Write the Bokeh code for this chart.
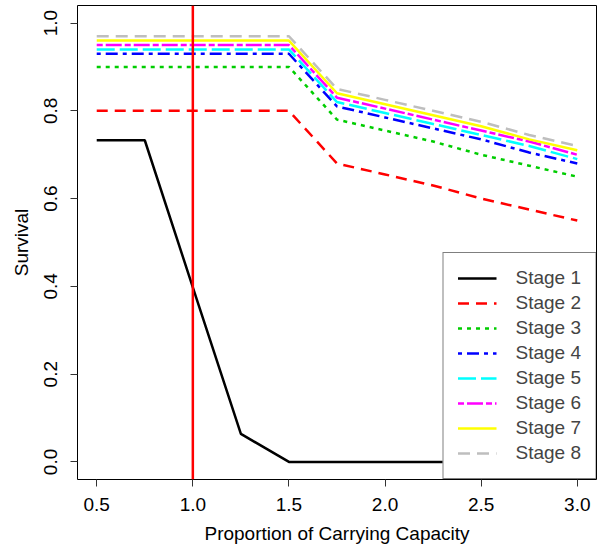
from bokeh.plotting import figure
from bokeh.models import Range1d, FixedTicker, PrintfTickFormatter, Span, Legend, LegendItem
from bokeh.embed import file_html
from bokeh.resources import INLINE

# Data
x = [0.5, 0.75, 1.0, 1.25, 1.5, 1.75, 2.0, 2.25, 2.5, 2.75, 3.0]
stage1 = [0.733, 0.733, 0.398, 0.064, 0.0, 0.0, 0.0, 0.0, 0.0, 0.0, 0.0]
stage2 = [0.80, 0.80, 0.80, 0.80, 0.80, 0.68, 0.655, 0.63, 0.60, 0.575, 0.55]
stage3 = [0.90, 0.90, 0.90, 0.90, 0.90, 0.78, 0.755, 0.73, 0.70, 0.675, 0.65]
stage4 = [0.93, 0.93, 0.93, 0.93, 0.93, 0.81, 0.785, 0.76, 0.735, 0.705, 0.68]
stage5 = [0.94, 0.94, 0.94, 0.94, 0.94, 0.82, 0.795, 0.77, 0.745, 0.72, 0.69]
stage6 = [0.95, 0.95, 0.95, 0.95, 0.95, 0.83, 0.805, 0.78, 0.755, 0.73, 0.70]
stage7 = [0.96, 0.96, 0.96, 0.96, 0.96, 0.84, 0.815, 0.79, 0.765, 0.735, 0.71]
stage8 = [0.97, 0.97, 0.97, 0.97, 0.97, 0.85, 0.825, 0.80, 0.775, 0.745, 0.72]
labels = ["Stage 1", "Stage 2", "Stage 3", "Stage 4", "Stage 5", "Stage 6", "Stage 7", "Stage 8"]
carrying_capacity_marker = 1.0
x_ticks = [0.5, 1.0, 1.5, 2.0, 2.5, 3.0]
y_ticks = [0.0, 0.2, 0.4, 0.6, 0.8, 1.0]

series = [stage1, stage2, stage3, stage4, stage5, stage6, stage7, stage8]
colors = ["#000000", "#FF0000", "#00CD00", "#0000FF", "#00FFFF", "#FF00FF", "#FFFF00", "#BEBEBE"]
dashes = ["solid", "11 7", "4 5", "4 5 12 5", "18 5", "6 3 16 3", "solid", "12 7"]

FONT = "Liberation Sans"
FS = "19px"

p = figure(width=601, height=550, output_backend="svg", toolbar_location=None,
           x_range=Range1d(0.4, 3.1), y_range=Range1d(-0.04, 1.04),
           min_border_left=77, min_border_right=5, min_border_top=5, min_border_bottom=71,
           background_fill_color="white", border_fill_color="white")
p.xgrid.visible = False
p.ygrid.visible = False
p.outline_line_color = "black"
p.outline_line_width = 1

p.xaxis.ticker = FixedTicker(ticks=x_ticks)
p.yaxis.ticker = FixedTicker(ticks=y_ticks)
p.xaxis.formatter = PrintfTickFormatter(format="%.1f")
p.yaxis.formatter = PrintfTickFormatter(format="%.1f")
p.xaxis.axis_label = "Proportion of Carrying Capacity"
p.yaxis.axis_label = "Survival"
p.yaxis.major_label_orientation = "vertical"
for ax in [p.xaxis[0], p.yaxis[0]]:
    ax.axis_line_color = None
    ax.major_tick_in = 0
    ax.major_tick_out = 7
    ax.major_tick_line_color = "#333333"
    ax.minor_tick_line_color = None
    ax.major_label_text_font = FONT
    ax.major_label_text_font_size = FS
    ax.major_label_text_color = "black"
    ax.axis_label_text_font = FONT
    ax.axis_label_text_font_size = FS
    ax.axis_label_text_font_style = "normal"
    ax.axis_label_text_color = "black"
p.xaxis.major_label_standoff = 11
p.xaxis.axis_label_standoff = 9
p.yaxis.major_label_standoff = 13
p.yaxis.axis_label_standoff = 10

items = []
for lab, ys, c, d in zip(labels, series, colors, dashes):
    r = p.line(x, ys, line_color=c, line_width=2.5, line_dash=d)
    items.append(LegendItem(label=lab, renderers=[r]))

p.add_layout(Span(location=carrying_capacity_marker, dimension="height",
                  line_color="#FF0000", line_width=2.5))

legend = Legend(items=items, location="bottom_right", margin=0, padding=14,
                spacing=3, label_height=20, glyph_height=20, glyph_width=39,
                label_standoff=19, label_text_font=FONT, label_text_font_size=FS,
                border_line_color="black", border_line_width=1,
                background_fill_color="white", background_fill_alpha=1.0)
p.add_layout(legend)

open("out.html", "w").write(file_html(p, INLINE))
